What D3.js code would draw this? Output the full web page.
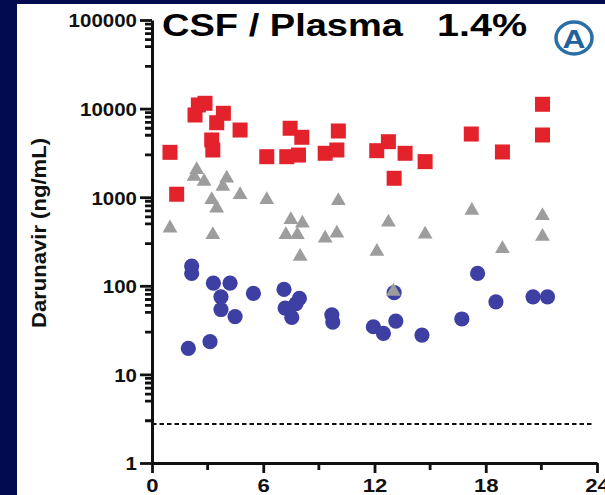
<!DOCTYPE html>
<html>
<head>
<meta charset="utf-8">
<script src="https://cdn.jsdelivr.net/npm/d3@7"></script>
<style>
  html, body { margin: 0; padding: 0; background: #020b50; }
  svg { display: block; }
  text { font-family: "Liberation Sans", Arial, sans-serif; }
</style>
</head>
<body>
<svg id="chart" width="605" height="495"></svg>
<script>
// ---- Data (time in hours, concentration in ng/mL) ----
const plasmaTimes  = [0.97, 1.33, 2.32, 2.50, 2.86, 3.49, 3.85, 3.22, 3.28, 4.75, 6.19, 7.27, 7.90, 7.45, 8.08, 9.34, 9.97, 10.05, 12.12, 12.75, 13.65, 14.73, 13.06, 17.22, 18.90, 21.06, 21.06];
const plasmaValues = [3210, 1080, 8470, 10990, 11480, 6930, 8850, 4425, 3410, 5730, 2865, 2865, 2990, 6000, 4745, 3130, 3410, 5590, 3350, 4230, 3130, 2520, 1635, 5165, 3240, 11190, 5035];

const unboundTimes  = [2.41, 2.27, 2.81, 4.03, 3.82, 4.75, 3.22, 3.49, 6.19, 10.05, 0.97, 3.28, 7.49, 8.11, 7.22, 7.84, 9.34, 9.97, 12.75, 14.73, 17.25, 21.06, 21.06, 7.99, 12.13, 18.90, 13.02];
const unboundValues = [2118, 1782, 1564, 1703, 1374, 1107, 972, 782, 972, 947, 465, 391, 578, 529, 391, 391, 358, 408, 543, 397, 736, 641, 374, 223, 254, 272, 90];

const csfTimes  = [2.14, 2.14, 3.31, 4.21, 3.72, 3.72, 4.48, 5.47, 7.12, 7.95, 7.77, 7.18, 7.54, 9.70, 9.75, 1.96, 3.13, 11.94, 12.48, 13.15, 13.06, 14.56, 16.71, 17.56, 18.55, 20.55, 21.33];
const csfValues = [167, 138, 107, 107, 75, 54, 45, 82, 91, 72, 63, 56, 44, 47, 39, 19.7, 23.4, 34.5, 29.1, 40, 83.6, 27.8, 42.2, 138, 66, 75, 75];

const lloq = 2.75;

const xTicks = [0, 6, 12, 18, 24];
const xMinorTicks = [3, 9, 15, 21];
const yTicks = [1, 10, 100, 1000, 10000, 100000];
const yTickLabels = ["1", "10", "100", "1000", "10000", "100000"];
const yMinorMultipliers = [3, 5, 6, 7, 8, 9];

const titleLeft = "CSF / Plasma";
const titleRight = "1.4%";
const yLabel = "Darunavir (ng/mL)";
const badge = "A";

// ---- Setup ----
const svg = d3.select("#chart");
svg.append("rect").attr("x", 0).attr("y", 0).attr("width", 605).attr("height", 495).attr("fill", "#020b50");
svg.append("rect").attr("x", 17).attr("y", 4).attr("width", 588).attr("height", 491).attr("fill", "#ffffff");

const x = d3.scaleLinear().domain([0, 24]).range([152, 597]);
const y = d3.scaleLog().domain([1, 100000]).range([463, 20]);

const yMinor = [];
yTicks.slice(0, -1).forEach(t => yMinorMultipliers.forEach(m => yMinor.push(t * m)));

const ink = "#111";

// LLOQ dashed line
svg.append("line")
  .attr("x1", x(0)).attr("x2", 593)
  .attr("y1", y(lloq)).attr("y2", y(lloq))
  .attr("stroke", ink).attr("stroke-width", 2)
  .attr("stroke-dasharray", "4.5,3");

// Minor ticks (drawn from scales)
const minorPath = yMinor.map(d => `M${x(0) - 7},${y(d)}H${x(0)}`).join("")
  + xMinorTicks.map(d => `M${x(d)},${y(1)}V${y(1) + 7}`).join("");
svg.append("path")
  .attr("d", minorPath)
  .attr("fill", "none")
  .attr("stroke", ink).attr("stroke-width", 2.8);

// Y axis
const gy = svg.append("g").attr("transform", `translate(${x(0)},0)`)
  .call(d3.axisLeft(y).tickValues(yTicks).tickSize(12).tickSizeOuter(0)
   .tickFormat((d, i) => yTickLabels[i]));
gy.selectAll("path.domain").attr("stroke", ink).attr("stroke-width", 3);
gy.selectAll(".tick line").attr("stroke", ink).attr("stroke-width", 2.8);
gy.selectAll(".tick text")
  .attr("x", -15).attr("dy", "0.36em")
  .attr("fill", ink)
  .style("font-size", "19px").style("font-weight", "bold")
  .attr("textLength", function() { return this.textContent.length * 11.4; })
  .attr("lengthAdjust", "spacingAndGlyphs");

// X axis
const gx = svg.append("g").attr("transform", `translate(0,${y(1)})`)
  .call(d3.axisBottom(x).tickValues(xTicks).tickSize(10).tickSizeOuter(0).tickFormat(d3.format("d")));
gx.selectAll("path.domain").attr("stroke", ink).attr("stroke-width", 3);
gx.selectAll(".tick line").attr("stroke", ink).attr("stroke-width", 2.8);
gx.selectAll(".tick text")
  .attr("y", 29).attr("dy", 0)
  .attr("fill", ink)
  .style("font-size", "19px").style("font-weight", "bold")
  .attr("textLength", function() { return this.textContent.length * 12.3; })
  .attr("lengthAdjust", "spacingAndGlyphs");

// ---- Marks ----
const csf = csfTimes.map((t, i) => ({ t, v: csfValues[i] }));
const plasma = plasmaTimes.map((t, i) => ({ t, v: plasmaValues[i] }));
const unbound = unboundTimes.map((t, i) => ({ t, v: unboundValues[i] }));

svg.append("g").selectAll("circle").data(csf).join("circle")
  .attr("cx", d => x(d.t)).attr("cy", d => y(d.v)).attr("r", 7.6)
  .attr("fill", "#3d40a2");

const tri = d3.symbol().type(d3.symbolTriangle).size(95);
svg.append("g").selectAll("path").data(unbound).join("path")
  .attr("d", tri)
  .attr("transform", d => `translate(${x(d.t)},${y(d.v) + 1.5})`)
  .attr("fill", "#9d9d9d");

svg.append("g").selectAll("rect").data(plasma).join("rect")
  .attr("x", d => x(d.t) - 7.5).attr("y", d => y(d.v) - 7.5)
  .attr("width", 15).attr("height", 15)
  .attr("fill", "#e3222b");

// ---- Texts ----
svg.append("text").attr("x", 162).attr("y", 36)
  .style("font-size", "32px").style("font-weight", "bold").attr("fill", "#000")
  .attr("textLength", 241).attr("lengthAdjust", "spacingAndGlyphs")
  .text(titleLeft);
svg.append("text").attr("x", 437).attr("y", 36)
  .style("font-size", "32px").style("font-weight", "bold").attr("fill", "#000")
  .attr("textLength", 90).attr("lengthAdjust", "spacingAndGlyphs")
  .text(titleRight);

svg.append("text")
  .attr("transform", "translate(46,233) rotate(-90)")
  .attr("text-anchor", "middle")
  .style("font-size", "21px").style("font-weight", "bold").attr("fill", ink)
  .attr("textLength", 190).attr("lengthAdjust", "spacingAndGlyphs")
  .text(yLabel);

svg.append("ellipse").attr("cx", 574).attr("cy", 38).attr("rx", 18).attr("ry", 16)
  .attr("fill", "#fff").attr("stroke", "#2a6ea6").attr("stroke-width", 3.5);
svg.append("text").attr("x", 574).attr("y", 48).attr("text-anchor", "middle")
  .style("font-size", "25px").style("font-weight", "bold").attr("fill", "#22629b")
  .attr("textLength", 23).attr("lengthAdjust", "spacingAndGlyphs")
  .text(badge);
</script>
</body>
</html>
